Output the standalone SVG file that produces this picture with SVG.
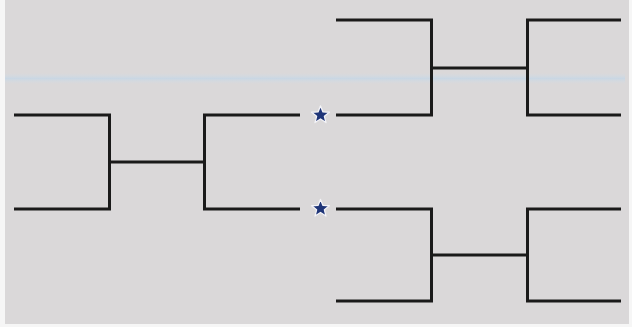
<svg xmlns="http://www.w3.org/2000/svg" width="632" height="327" viewBox="0 0 632 327">
<style>
.ln{fill:none;stroke:#1a1a1a;stroke-width:3;stroke-linecap:butt;stroke-linejoin:miter}
.star{fill:#1f3578;stroke:#f4f4f8;stroke-width:1;stroke-linejoin:round}
</style>
<defs>
<linearGradient id="streak" x1="0" y1="0" x2="0" y2="1">
<stop offset="0" stop-color="#cfe0ee" stop-opacity="0"/>
<stop offset="0.5" stop-color="#bcd6ec" stop-opacity="0.55"/>
<stop offset="1" stop-color="#cfe0ee" stop-opacity="0"/>
</linearGradient>
<path id="st" d="M0,-7 L1.9,-2.4 L6.8,-2.1 L3,1 L4.2,5.8 L0,3.1 L-4.2,5.8 L-3,1 L-6.8,-2.1 L-1.9,-2.4 Z"/>
</defs>
<rect x="0" y="0" width="632" height="327" fill="#f6f6f6"/>
<rect x="5" y="0" width="624" height="324" fill="#dad8d9"/>
<rect x="5" y="73" width="620" height="11" fill="url(#streak)"/>
<g id="connectors">
<path class="ln" d="M14,115 H109.5 V209 H14"/>
<path class="ln" d="M109.5,162 H204.5"/>
<path class="ln" d="M300,115 H204.5 V209 H300"/>
<path class="ln" d="M336,20 H431.5 V115 H336"/>
<path class="ln" d="M431.5,68 H527.5"/>
<path class="ln" d="M621,20 H527.5 V115 H621"/>
<path class="ln" d="M336,209 H431.5 V301 H336"/>
<path class="ln" d="M431.5,255 H527.5"/>
<path class="ln" d="M621,209 H527.5 V301 H621"/>
</g>
<g id="star-top"><use href="#st" class="star" transform="translate(320.5,115) scale(1.3)"/></g>
<g id="star-bottom"><use href="#st" class="star" transform="translate(320.5,208.5) scale(1.3)"/></g>
</svg>
